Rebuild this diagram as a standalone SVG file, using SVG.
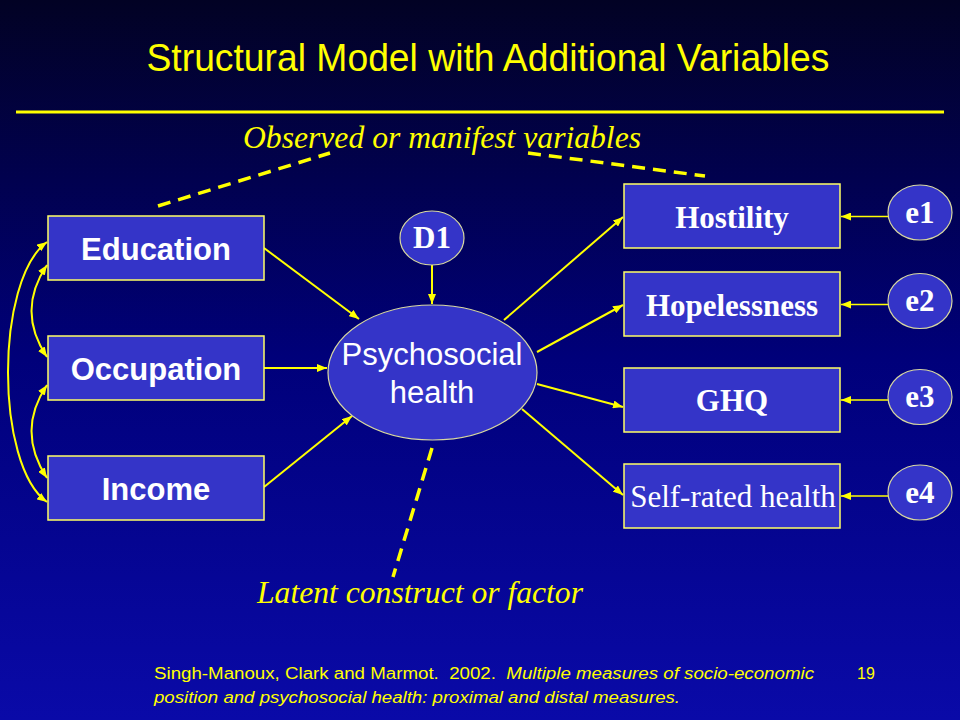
<svg xmlns="http://www.w3.org/2000/svg" width="960" height="720" viewBox="0 0 960 720">
<defs>
<linearGradient id="bg" x1="0" y1="0" x2="0" y2="1">
<stop offset="0" stop-color="#020224"/>
<stop offset="0.5" stop-color="#00007a"/>
<stop offset="1" stop-color="#0a0aa8"/>
</linearGradient>
<marker id="ah" viewBox="0 0 10 8" refX="10" refY="4" markerWidth="10" markerHeight="8" markerUnits="userSpaceOnUse" orient="auto-start-reverse">
<path d="M0,0 L10,4 L0,8 z" fill="#ffff00"/>
</marker>
</defs>
<style>
.box{fill:#3434c8;stroke:#ffff66;stroke-width:1.5}
.ell{fill:#3434c8;stroke:#d8d8a0;stroke-width:1.2}
.lbA{font-family:"Liberation Sans",Arial,sans-serif;font-weight:bold;font-size:31px;fill:#ffffff;text-anchor:middle}
.lbT{font-family:"Liberation Serif","Times New Roman",serif;font-weight:bold;font-size:31px;fill:#ffffff;text-anchor:middle}
.lbR{font-family:"Liberation Serif","Times New Roman",serif;font-size:31px;fill:#ffffff;text-anchor:middle}
.arr{stroke:#ffff00;stroke-width:2;fill:none;marker-end:url(#ah)}
.arr2{stroke:#ffff00;stroke-width:2;fill:none;marker-start:url(#ah);marker-end:url(#ah)}
.dash{stroke:#ffff00;stroke-width:3.5;stroke-dasharray:13 8;fill:none}
.note{font-family:"Liberation Serif","Times New Roman",serif;font-style:italic;fill:#ffff00}
.foot{font-family:"Liberation Sans",Arial,sans-serif;font-size:16px;fill:#ffff00}
</style>
<rect x="0" y="0" width="960" height="720" fill="url(#bg)"/>

<g id="title">
<text x="488" y="71" font-family="Liberation Sans,Arial,sans-serif" font-size="39" fill="#ffff00" text-anchor="middle" textLength="683" lengthAdjust="spacingAndGlyphs">Structural Model with Additional Variables</text>
<line x1="16" y1="112" x2="944" y2="112" stroke="#ffff00" stroke-width="3"/>
</g>

<g id="connectors">
<line class="dash" x1="158" y1="206" x2="330" y2="153"/>
<line class="dash" x1="528" y1="153" x2="705" y2="176"/>
<line class="dash" x1="432" y1="448" x2="393" y2="577"/>
<path class="arr2" d="M47,265 Q16,311 47,357"/>
<path class="arr2" d="M47,385 Q16,431 47,478"/>
<path class="arr2" d="M47,242 C-5,280 -5,465 47,502"/>
<line class="arr" x1="264" y1="248" x2="359" y2="319"/>
<line class="arr" x1="264" y1="368" x2="327" y2="368"/>
<line class="arr" x1="264" y1="487" x2="352" y2="416"/>
<line class="arr" x1="432" y1="265" x2="432" y2="304"/>
<line class="arr" x1="504" y1="320" x2="623" y2="217"/>
<line class="arr" x1="537" y1="352" x2="623" y2="305"/>
<line class="arr" x1="537" y1="384" x2="623" y2="407"/>
<line class="arr" x1="522" y1="409" x2="623" y2="495"/>
<line class="arr" style="stroke-width:1.5" x1="888" y1="216.5" x2="841" y2="216.5"/>
<line class="arr" style="stroke-width:1.5" x1="888" y1="304.5" x2="841" y2="304.5"/>
<line class="arr" style="stroke-width:1.5" x1="888" y1="400" x2="841" y2="400"/>
<line class="arr" style="stroke-width:1.5" x1="888" y1="496" x2="841" y2="496"/>
</g>

<g id="education"><rect class="box" x="48" y="216" width="216" height="64"/><text class="lbA" x="156" y="260">Education</text></g>
<g id="occupation"><rect class="box" x="48" y="336" width="216" height="64"/><text class="lbA" x="156" y="380">Occupation</text></g>
<g id="income"><rect class="box" x="48" y="456" width="216" height="64"/><text class="lbA" x="156" y="500">Income</text></g>

<g id="d1"><ellipse class="ell" cx="432" cy="238" rx="32" ry="27"/><text class="lbT" x="432" y="248">D1</text></g>

<g id="psychosocial"><ellipse class="ell" cx="432.5" cy="372.5" rx="104.5" ry="67.5"/>
<text font-family="Liberation Sans,Arial,sans-serif" font-size="31" fill="#ffffff" text-anchor="middle"><tspan x="432" y="365">Psychosocial</tspan><tspan x="432" y="403">health</tspan></text></g>

<g id="hostility"><rect class="box" x="624" y="184" width="216" height="64"/><text class="lbT" x="732" y="228">Hostility</text></g>
<g id="hopelessness"><rect class="box" x="624" y="272" width="216" height="64"/><text class="lbT" x="732" y="316">Hopelessness</text></g>
<g id="ghq"><rect class="box" x="624" y="368" width="216" height="64"/><text class="lbT" x="732" y="411">GHQ</text></g>
<g id="selfrated"><rect class="box" x="624" y="464" width="216" height="64"/><text class="lbR" x="733" y="507">Self-rated health</text></g>

<g id="e1"><ellipse class="ell" cx="920" cy="212.5" rx="32" ry="27.5"/><text class="lbT" x="920" y="223">e1</text></g>
<g id="e2"><ellipse class="ell" cx="920" cy="301" rx="32" ry="27.5"/><text class="lbT" x="920" y="311">e2</text></g>
<g id="e3"><ellipse class="ell" cx="920" cy="397" rx="32" ry="27.5"/><text class="lbT" x="920" y="407">e3</text></g>
<g id="e4"><ellipse class="ell" cx="920" cy="492.5" rx="32" ry="27.5"/><text class="lbT" x="920" y="503">e4</text></g>

<g id="notes">
<text class="note" x="243" y="148" font-size="32" textLength="398" lengthAdjust="spacingAndGlyphs">Observed or manifest variables</text>
<text class="note" x="257" y="603" font-size="31" textLength="326" lengthAdjust="spacingAndGlyphs">Latent construct or factor</text>
</g>

<g id="footer">
<text class="foot" x="154" y="679" textLength="660" lengthAdjust="spacingAndGlyphs">Singh-Manoux, Clark and Marmot.&#160; 2002.&#160; <tspan font-style="italic">Multiple measures of socio-economic</tspan></text>
<text class="foot" x="857" y="679">19</text>
<text class="foot" x="154" y="703" font-style="italic" textLength="526" lengthAdjust="spacingAndGlyphs">position and psychosocial health: proximal and distal measures.</text>
</g>
</svg>
